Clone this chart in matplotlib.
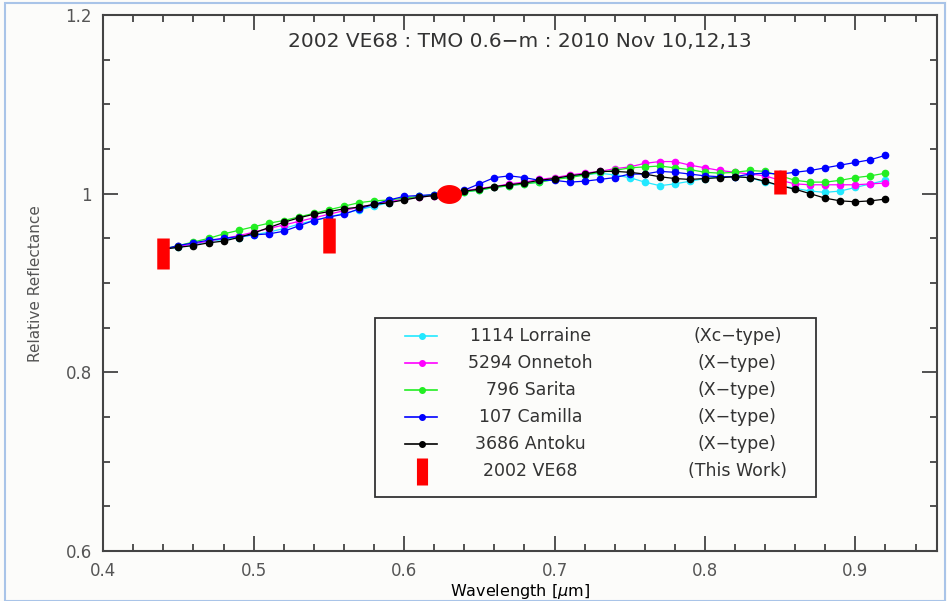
import matplotlib.pyplot as plt
import numpy as np
from matplotlib.patches import Rectangle
from matplotlib.ticker import MultipleLocator, FormatStrFormatter

plt.rcParams.update({
	"font.family": "DejaVu Sans",
	"text.color": "#333333",
	"axes.edgecolor": "#444444",
	"xtick.color": "#444444",
	"ytick.color": "#444444",
})

# Data
wavelength = np.round(np.arange(0.44, 0.9201, 0.01), 2)

lorraine = [0.938, 0.940, 0.943, 0.946, 0.949, 0.951, 0.954, 0.957, 0.961, 0.966,
            0.970, 0.974, 0.978, 0.982, 0.986, 0.990, 0.994, 0.997, 0.999, 1.000,
            1.002, 1.004, 1.007, 1.009, 1.011, 1.013, 1.016, 1.019, 1.021, 1.023,
            1.021, 1.018, 1.013, 1.009, 1.011, 1.014, 1.017, 1.019, 1.019, 1.018,
            1.013, 1.009, 1.006, 1.003, 1.0015, 1.003, 1.007, 1.011, 1.015]
onnetoh = [0.938, 0.941, 0.944, 0.947, 0.950, 0.953, 0.957, 0.961, 0.965, 0.969,
           0.973, 0.977, 0.981, 0.985, 0.988, 0.991, 0.994, 0.996, 0.998, 1.000,
           1.003, 1.006, 1.008, 1.011, 1.013, 1.016, 1.018, 1.021, 1.023, 1.025,
           1.028, 1.030, 1.034, 1.036, 1.036, 1.032, 1.029, 1.026, 1.024, 1.022,
           1.020, 1.015, 1.011, 1.010, 1.010, 1.010, 1.010, 1.011, 1.012]
sarita = [0.938, 0.942, 0.946, 0.950, 0.955, 0.959, 0.963, 0.967, 0.970, 0.974,
          0.978, 0.982, 0.986, 0.990, 0.992, 0.993, 0.995, 0.997, 0.999, 1.000,
          1.002, 1.004, 1.007, 1.009, 1.011, 1.013, 1.016, 1.018, 1.021, 1.024,
          1.026, 1.029, 1.030, 1.031, 1.029, 1.027, 1.024, 1.023, 1.024, 1.026,
          1.025, 1.020, 1.015, 1.013, 1.013, 1.015, 1.018, 1.020, 1.023]
camilla = [0.938, 0.942, 0.945, 0.948, 0.950, 0.952, 0.954, 0.955, 0.958, 0.964,
           0.970, 0.974, 0.977, 0.983, 0.988, 0.993, 0.997, 0.998, 0.999, 1.000,
           1.004, 1.011, 1.018, 1.020, 1.018, 1.015, 1.015, 1.013, 1.014, 1.016,
           1.018, 1.022, 1.022, 1.025, 1.024, 1.022, 1.020, 1.019, 1.019, 1.022,
           1.023, 1.022, 1.024, 1.026, 1.029, 1.032, 1.035, 1.038, 1.043]
antoku = [0.938, 0.940, 0.942, 0.945, 0.947, 0.951, 0.956, 0.962, 0.968, 0.973,
          0.977, 0.980, 0.983, 0.985, 0.988, 0.990, 0.993, 0.996, 0.998, 1.000,
          1.003, 1.005, 1.008, 1.010, 1.012, 1.015, 1.017, 1.020, 1.022, 1.025,
          1.025, 1.024, 1.022, 1.019, 1.017, 1.016, 1.017, 1.018, 1.019, 1.018,
          1.014, 1.009, 1.005, 1.000, 0.995, 0.992, 0.991, 0.992, 0.994]

series = [
	("1114 Lorraine", "(Xc\u2212type)", lorraine, "#22e8ff"),
	("5294 Onnetoh", "(X\u2212type)", onnetoh, "#ff00ff"),
	("796 Sarita", "(X\u2212type)", sarita, "#22ee22"),
	("107 Camilla", "(X\u2212type)", camilla, "#0000ff"),
	("3686 Antoku", "(X\u2212type)", antoku, "#000000"),
]

# 2002 VE68 colours (ranges) and normalisation point
ve68_wave = [0.44, 0.55, 0.85]
ve68_low = [0.916, 0.934, 1.000]
ve68_high = [0.951, 0.973, 1.027]
norm_wave = [0.63]
norm_refl = [1.0]

fig = plt.figure(figsize=(9.47, 6.01), dpi=100)
fig.patch.set_facecolor("#fcfcfa")
ax = fig.add_axes([0.109, 0.083, 0.880, 0.892])
ax.set_facecolor("#fcfcfa")

for name, kind, refl, col in series:
	ax.plot(wavelength, refl, color=col, lw=0.9, marker="o", ms=4.5, mec=col, mfc=col)

ax.vlines(ve68_wave, ve68_low, ve68_high, colors="#ff0000", lw=9, zorder=5)
t = np.linspace(0, 2 * np.pi, 60)
ellipse = np.column_stack([1.35 * np.cos(t), np.sin(t)])
ax.plot(norm_wave, norm_refl, ls="none", marker=ellipse, ms=17, color="#ff0000", zorder=5)

ax.set_xlim(0.4, 0.954)
ax.set_ylim(0.6, 1.2)
ax.xaxis.set_major_locator(MultipleLocator(0.1))
ax.xaxis.set_minor_locator(MultipleLocator(0.02))
ax.yaxis.set_major_locator(MultipleLocator(0.2))
ax.yaxis.set_minor_locator(MultipleLocator(0.05))
ax.yaxis.set_major_formatter(FormatStrFormatter("%g"))
ax.tick_params(which="both", direction="in", top=True, right=True, width=1.3, labelsize=12, labelcolor="#555555")
ax.tick_params(which="major", length=11, pad=8)
ax.tick_params(which="minor", length=5)
for s in ax.spines.values():
	s.set_linewidth(1.5)

ax.set_xlabel(r"Wavelength [$\mu$m]", fontsize=11.5, labelpad=1)
ax.set_ylabel("Relative Reflectance", fontsize=11, color="#555555",
              family=["Liberation Sans Narrow", "DejaVu Sans"], labelpad=16)
ax.text(0.5, 0.95, "2002 VE68 : TMO 0.6\u2212m : 2010 Nov 10,12,13", transform=ax.transAxes,
        ha="center", va="center", fontsize=14.5)

# legend box
ax.add_patch(Rectangle((0.3265, 0.1007), 0.5285, 0.334, transform=ax.transAxes,
                       fill=False, ec="#333333", lw=1.3, zorder=6))
rows = [0.401, 0.351, 0.300, 0.250, 0.1996, 0.149]
for (name, kind, refl, col), ry in zip(series, rows):
	ax.plot([0.3625, 0.401], [ry, ry], color=col, lw=1.2, transform=ax.transAxes, zorder=7)
	ax.plot([0.382], [ry], color=col, marker="o", ms=4, transform=ax.transAxes, zorder=7)
	ax.text(0.513, ry, name, transform=ax.transAxes, ha="center", va="center", fontsize=12.5, zorder=7)
	ax.text(0.761, ry, kind, transform=ax.transAxes, ha="center", va="center", fontsize=12.5, zorder=7)
ax.plot([0.382, 0.382], [rows[5] - 0.025, rows[5] + 0.025], color="#ff0000", lw=8,
        transform=ax.transAxes, solid_capstyle="butt", zorder=7)
ax.text(0.513, rows[5], "2002 VE68", transform=ax.transAxes, ha="center", va="center", fontsize=12.5, zorder=7)
ax.text(0.761, rows[5], "(This Work)", transform=ax.transAxes, ha="center", va="center", fontsize=12.5, zorder=7)

# slide frame
fig.add_artist(Rectangle((0.005, 0.0), 0.993, 0.995, transform=fig.transFigure,
                         fill=False, ec="#a9c4e8", lw=1.5))

fig.savefig("out.png", dpi=100)
